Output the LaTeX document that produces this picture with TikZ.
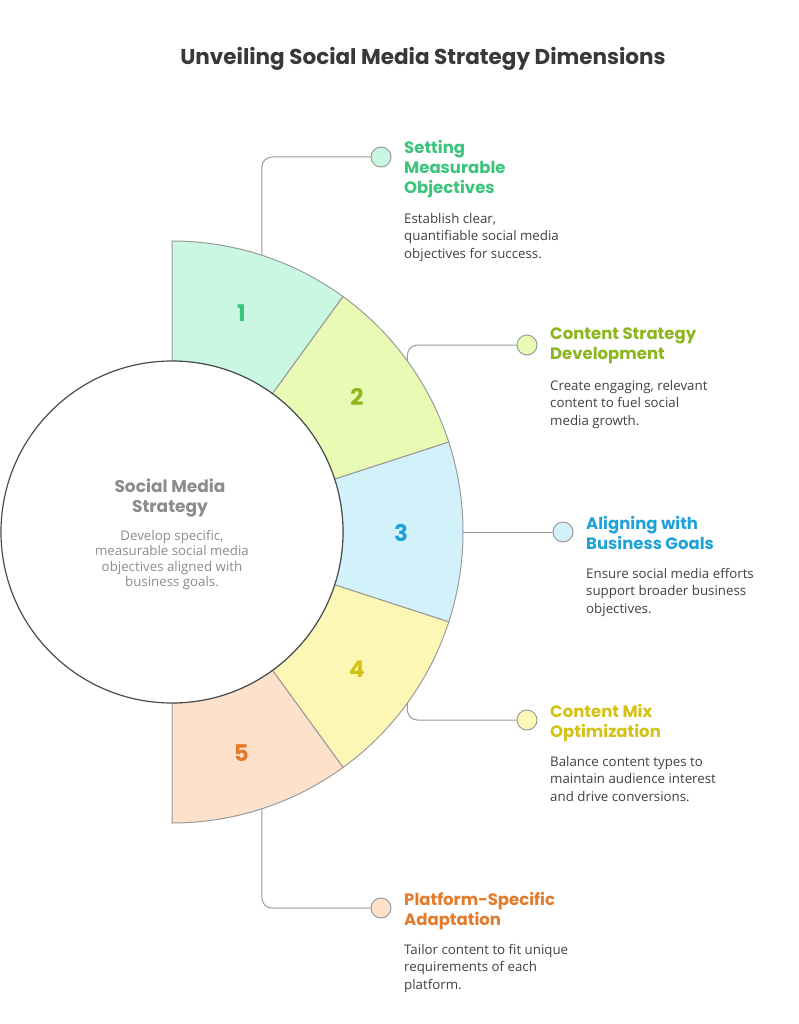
\documentclass[tikz,border=0pt]{standalone}
\usepackage{fontspec}
\setmainfont{Poppins}
\newfontfamily\descfont{Open Sans}
\definecolor{c1f}{HTML}{C9F7E1}\definecolor{c1t}{HTML}{3CC47C}
\definecolor{c2f}{HTML}{E8FAB4}\definecolor{c2t}{HTML}{8DB51E}
\definecolor{c3f}{HTML}{D3F1FB}\definecolor{c3t}{HTML}{1FA2D8}
\definecolor{c4f}{HTML}{FDF7B6}\definecolor{c4t}{HTML}{D3C214}
\definecolor{c5f}{HTML}{FDE1CA}\definecolor{c5t}{HTML}{E27B2C}
\definecolor{ln}{HTML}{9A9A9A}
\begin{document}
\begin{tikzpicture}[x=1pt,y=-1pt,
  seg/.style={draw=ln,line width=1pt},
  conn/.style={draw=ln,line width=1pt,rounded corners=10pt},
  dot/.style={circle,draw=ln,line width=1pt,minimum size=20pt,inner sep=0pt},
  ttl/.style={anchor=north west,font=\bfseries\fontsize{16.5}{20}\selectfont,align=left,inner sep=0pt},
  dsc/.style={anchor=north west,font=\descfont\fontsize{13.3}{17.5}\selectfont,text=black!75,align=left,inner sep=0pt},
  num/.style={font=\bfseries\fontsize{23}{26}\selectfont}]
\useasboundingbox (0,0) rectangle (799,1024);
\node[font=\bfseries\fontsize{21.5}{26}\selectfont,text=black!78] (title) at (423,59) {Unveiling Social Media Strategy Dimensions};
\def\cx{172}\def\cy{532}\def\ri{171}\def\ro{291}
\foreach \i/\c in {1/c1f,2/c2f,3/c3f,4/c4f,5/c5f}{
  \pgfmathsetmacro\a{126-36*\i}
  \pgfmathsetmacro\b{90-36*\i}
  \filldraw[seg,fill=\c] ({\cx+\ri*cos(\a)},{\cy-\ri*sin(\a)}) -- ({\cx+\ro*cos(\a)},{\cy-\ro*sin(\a)})
    arc[start angle=-\a,end angle=-\b,radius=\ro] -- ({\cx+\ri*cos(\b)},{\cy-\ri*sin(\b)})
    arc[start angle=-\b,end angle=-\a,radius=\ri] -- cycle;
}
\node[circle,draw=black!70,line width=1.2pt,fill=white,minimum size=342pt] (core) at (\cx,\cy) {};
\node[font=\bfseries\fontsize{17}{20}\selectfont,text=black!45,align=center] (ct) at (170,498) {Social Media\\Strategy};
\node[font=\descfont\fontsize{13.3}{15.5}\selectfont,text=black!45,align=center] (cd) at (172,560) {Develop specific,\\measurable social media\\objectives aligned with\\business goals.};
\foreach \i/\t in {1/c1t,2/c2t,3/c3t,4/c4t,5/c5t}{
  \pgfmathsetmacro\m{108-36*\i}
  \pgfmathsetmacro\r{(\ri+\ro)/2}
  \node[num,text=\t] (n\i) at ({\cx+\r*cos(\m)-2},{\cy-\r*sin(\m)+1}) {\i};
  \coordinate (o\i) at ({\cx+\ro*cos(\m)},{\cy-\ro*sin(\m)});
}
\node[dot,fill=c1f] (d1) at (381,157) {};
\node[dot,fill=c2f] (d2) at (527,345) {};
\node[dot,fill=c3f] (d3) at (563,532) {};
\node[dot,fill=c4f] (d4) at (527,720) {};
\node[dot,fill=c5f] (d5) at (381,908) {};
\draw[conn] (o1) -- (o1|-d1) -- (d1);
\draw[conn] (o2) -- (o2|-d2) -- (d2);
\draw[conn] (o3) -- (d3);
\draw[conn] (o4) -- (o4|-d4) -- (d4);
\draw[conn] (o5) -- (o5|-d5) -- (d5);
\node[ttl,text=c1t] (t1) at (404,140) {Setting\\Measurable\\Objectives};
\node[dsc] (e1) at (404,213) {Establish clear,\\quantifiable social media\\objectives for success.};
\node[ttl,text=c2t] (t2) at (550,328) {Content Strategy\\Development};
\node[dsc] (e2) at (550,380) {Create engaging, relevant\\content to fuel social\\media growth.};
\node[ttl,text=c3t] (t3) at (586,516) {Aligning with\\Business Goals};
\node[dsc] (e3) at (586,568) {Ensure social media efforts\\support broader business\\objectives.};
\node[ttl,text=c4t] (t4) at (550,704) {Content Mix\\Optimization};
\node[dsc] (e4) at (550,756) {Balance content types to\\maintain audience interest\\and drive conversions.};
\node[ttl,text=c5t] (t5) at (404,892) {Platform-Specific\\Adaptation};
\node[dsc] (e5) at (404,944) {Tailor content to fit unique\\requirements of each\\platform.};
\end{tikzpicture}
\end{document}
